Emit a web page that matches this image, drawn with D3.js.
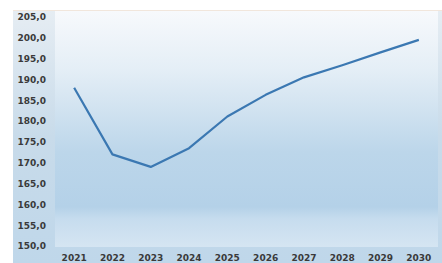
<!DOCTYPE html>
<html lang="en">
<head>
    <meta charset="UTF-8">
    <script src="https://d3js.org/d3.v7.min.js"></script>
    <style>
        body { margin: 0; background: #fff; }
        .axis text {
            font-family: "DejaVu Sans", sans-serif;
            font-size: 9px;
            font-weight: bold;
            fill: #3a3a3a;
        }
    </style>
</head>
<body>
    <svg id="chart" width="442" height="263"></svg>
    <script>
        // data
        const years = ["2021","2022","2023","2024","2025","2026","2027","2028","2029","2030"];
        const values = [188.0, 172.0, 169.0, 173.5, 181.1, 186.3, 190.5, 193.4, 196.5, 199.5];
        const yTicks = [150,155,160,165,170,175,180,185,190,195,200,205];

        const svg = d3.select("#chart");
        const plot = { left: 55, right: 438, top: 11, bottom: 247 };

        const defs = svg.append("defs");
        const outerGrad = defs.append("linearGradient")
            .attr("id", "outerGrad").attr("x1", 0).attr("y1", 0).attr("x2", 0).attr("y2", 1);
        outerGrad.append("stop").attr("offset", "0%").attr("stop-color", "#e6edf3");
        outerGrad.append("stop").attr("offset", "50%").attr("stop-color", "#c8dbea");
        outerGrad.append("stop").attr("offset", "100%").attr("stop-color", "#bfd7ea");

        const plotGrad = defs.append("linearGradient")
            .attr("id", "plotGrad").attr("x1", 0).attr("y1", 0).attr("x2", 0).attr("y2", 1);
        plotGrad.append("stop").attr("offset", "0%").attr("stop-color", "#f7f9fc");
        plotGrad.append("stop").attr("offset", "25%").attr("stop-color", "#e4eef6");
        plotGrad.append("stop").attr("offset", "60%").attr("stop-color", "#bcd6ea");
        plotGrad.append("stop").attr("offset", "83%").attr("stop-color", "#b4d1e8");
        plotGrad.append("stop").attr("offset", "88%").attr("stop-color", "#c6dcee");
        plotGrad.append("stop").attr("offset", "100%").attr("stop-color", "#d5e5f2");

        // chart panel and plot area backgrounds
        svg.append("rect")
            .attr("x", 13).attr("y", 10)
            .attr("width", 429).attr("height", 253)
            .attr("fill", "url(#outerGrad)");
        svg.append("line")
            .attr("x1", 13).attr("x2", 442).attr("y1", 10.5).attr("y2", 10.5)
            .attr("stroke", "#f1e6dc");
        svg.append("rect")
            .attr("x", plot.left).attr("y", plot.top)
            .attr("width", plot.right - plot.left).attr("height", plot.bottom - plot.top)
            .attr("fill", "url(#plotGrad)");

        const x = d3.scaleBand().domain(years).range([plot.left, plot.right]);
        const y = d3.scaleLinear().domain([150, 205]).range([246, 17]);

        // axes
        svg.append("g")
            .attr("class", "axis")
            .attr("transform", "translate(" + 46 + ",0)")
            .call(d3.axisLeft(y).tickValues(yTicks).tickSize(0).tickPadding(0)
                .tickFormat(d => d3.format(".1f")(d).replace(".", ",")))
            .call(g => g.select(".domain").remove());

        svg.append("g")
            .attr("class", "axis")
            .attr("transform", "translate(0," + 255 + ")")
            .call(d3.axisBottom(x).tickSize(0).tickPadding(0))
            .call(g => g.select(".domain").remove())
            .selectAll("text").attr("dy", "0.71em");

        // line
        const line = d3.line()
            .x((d, i) => x(years[i]) + x.bandwidth() / 2)
            .y(d => y(d));
        svg.append("path")
            .datum(values)
            .attr("d", line)
            .attr("fill", "none")
            .attr("stroke", "#3b78b2")
            .attr("stroke-width", 2.2)
            .attr("stroke-linejoin", "round");
    </script>
</body>
</html>
